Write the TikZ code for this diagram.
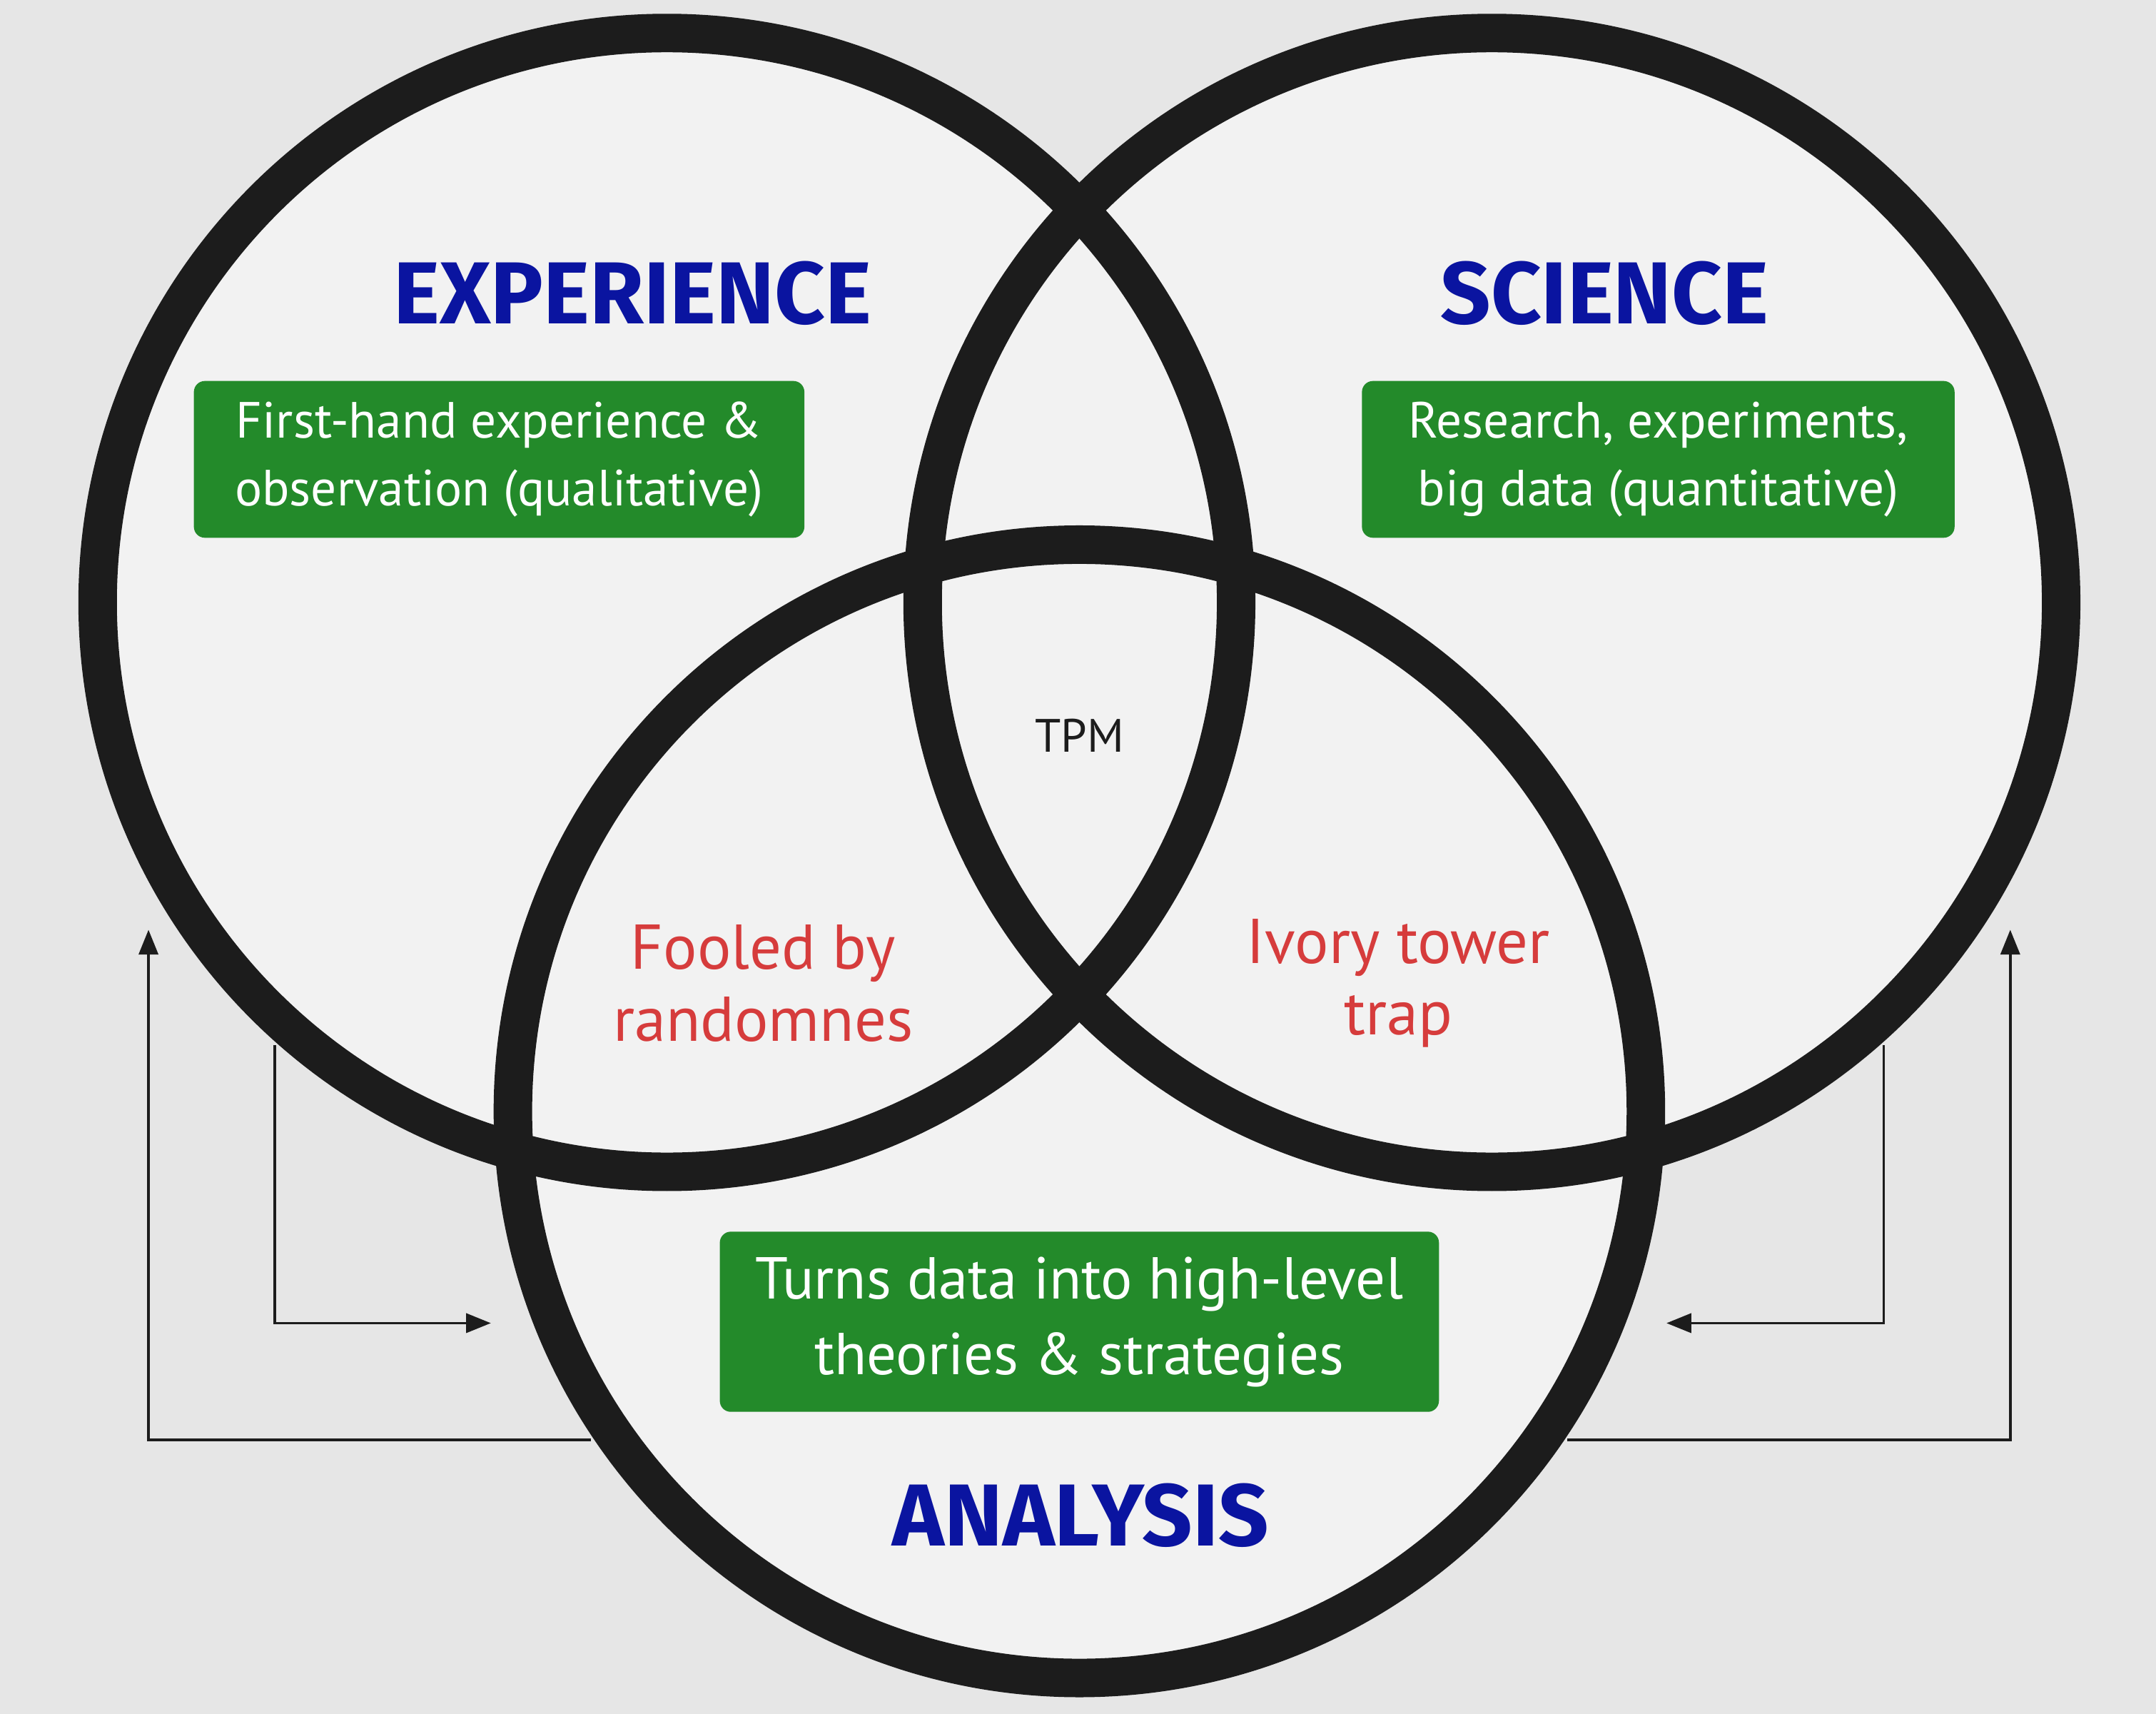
\documentclass[tikz,border=0pt]{standalone}
\usepackage{fontspec}
\setmainfont{PT Sans}
\newfontfamily\titlefont{Fira Sans}
\usetikzlibrary{arrows.meta}
\definecolor{bg}{HTML}{E6E6E6}
\definecolor{cfill}{HTML}{F2F2F2}
\definecolor{ring}{HTML}{1C1C1C}
\definecolor{tblue}{HTML}{0A14A0}
\definecolor{gbox}{HTML}{238A2A}
\definecolor{rtext}{HTML}{D63C3C}
\begin{document}
\begin{tikzpicture}[x=1pt,y=-1pt,
  ring/.style={draw=ring,line width=28pt},
  title/.style={font=\titlefont\bfseries\fontsize{64}{70}\selectfont,text=tblue},
  gb/.style={fill=gbox,rounded corners=8pt,text=white,align=center,inner sep=0pt},
  red/.style={text=rtext,align=center,font=\fontsize{46}{52}\selectfont},
  conn/.style={draw=ring,line width=2pt,-{Triangle[length=18pt,width=14pt]}}]
\fill[bg] (0,0) rectangle (1568,1246);
\coordinate (l1) at (200,760); \coordinate (l1b) at (200,962); \coordinate (l1e) at (357,962);
\coordinate (l2) at (430,1047); \coordinate (l2b) at (108,1047); \coordinate (l2e) at (108,676);
\coordinate (r1) at (1370,760); \coordinate (r1b) at (1370,962); \coordinate (r1e) at (1212,962);
\coordinate (r2) at (1140,1047); \coordinate (r2b) at (1462,1047); \coordinate (r2e) at (1462,676);
\draw[conn] (l1) -- (l1b) -- (l1e);
\draw[conn] (l2) -- (l2b) -- (l2e);
\draw[conn] (r1) -- (r1b) -- (r1e);
\draw[conn] (r2) -- (r2b) -- (r2e);
\coordinate (cl) at (485,438); \coordinate (cr) at (1085,438); \coordinate (cb) at (785,808);
\fill[cfill] (cl) circle (414); \fill[cfill] (cr) circle (414); \fill[cfill] (cb) circle (412);
\draw[ring] (cl) circle (414); \draw[ring] (cr) circle (414); \draw[ring] (cb) circle (412);
\node[title] (te) at (460,213) {EXPERIENCE};
\node[title] (ts) at (1167,213) {SCIENCE};
\node[title] (ta) at (786,1102) {ANALYSIS};
\node[gb,minimum width=444pt,minimum height=114pt,font=\fontsize{37}{49}\selectfont] (be) at (363,334) {First-hand experience \&\\observation (qualitative)};
\node[gb,minimum width=431pt,minimum height=114pt,font=\fontsize{37}{49}\selectfont] (bs) at (1206,334) {Research, experiments,\\big data (quantitative)};
\node[gb,minimum width=523pt,minimum height=131pt,font=\fontsize{43}{55}\selectfont] (ba) at (785,961) {Turns data into high-level\\theories \& strategies};
\node[font=\fontsize{34}{40}\selectfont,text=ring] (tpm) at (785,535) {TPM};
\node[red] (fr) at (555,715) {Fooled by\\randomnes};
\node[red] (iv) at (1017,715) {Ivory tower\\trap};
\end{tikzpicture}
\end{document}
